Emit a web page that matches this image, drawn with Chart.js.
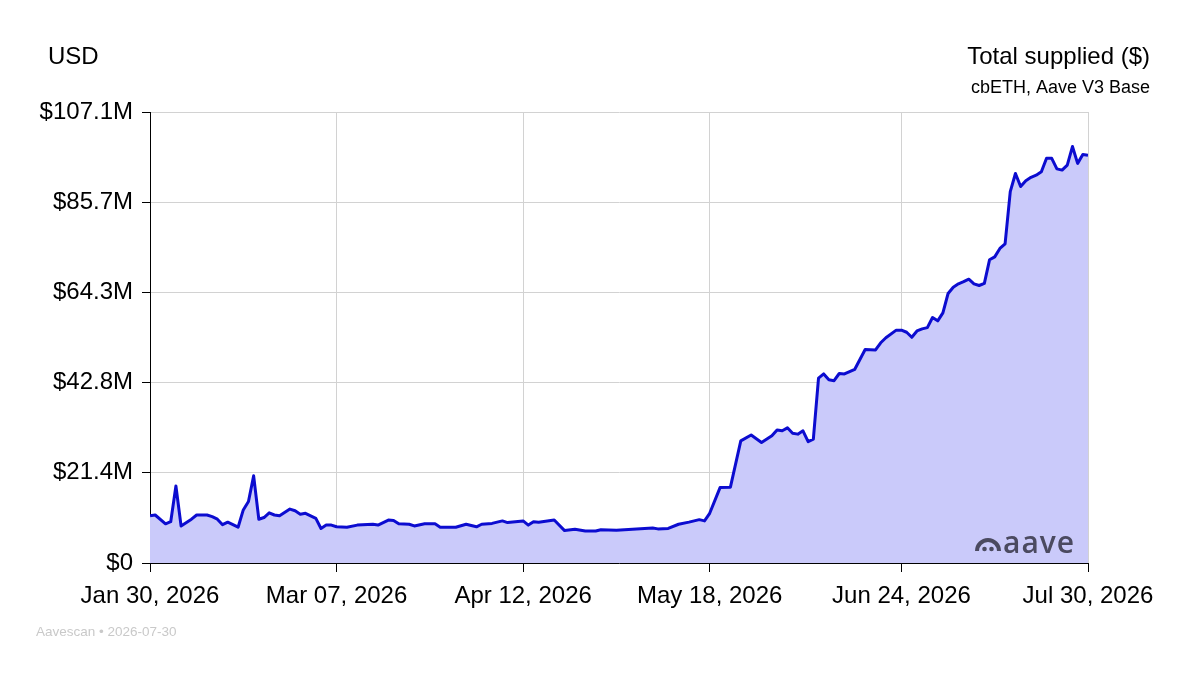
<!DOCTYPE html>
<html>
<head>
<meta charset="utf-8">
<title>Total supplied - cbETH, Aave V3 Base</title>
<script src="https://cdn.jsdelivr.net/npm/chart.js@4.4.1/dist/chart.umd.min.js"></script>
<style>
  html, body { margin: 0; padding: 0; background: #fff; }
  #wrap { width: 1200px; height: 675px; }
</style>
</head>
<body>
<div id="wrap"><canvas id="supplyChart" width="1200" height="675"></canvas></div>
<script>
// Days since Jan 30, 2026 (points where the line turns)
const days = [
  0, 1, 3, 4, 5, 6, 8, 9, 11, 12, 13, 14, 15, 17, 18, 19, 20, 21, 22, 23,
  24, 25, 27, 28, 29, 30, 32, 33, 34, 35, 36, 38, 40, 43, 44, 46, 47, 48, 50, 51,
  53, 55, 56, 59, 61, 63, 64, 66, 68, 69, 72, 73, 74, 75, 78, 80, 82, 84, 86, 87,
  90, 97, 98, 100, 102, 104, 106, 107, 108, 110, 112, 114, 116, 118, 120, 121, 122, 123, 124, 125,
  126, 127, 128, 129, 130, 131, 132, 133, 134, 136, 138, 140, 141, 142, 144, 145, 146, 147, 148, 149,
  150, 151, 152, 153, 154, 155, 156, 157, 158, 159, 160, 161, 162, 163, 164, 165, 166, 167, 168, 169,
  170, 171, 172, 173, 174, 175, 176, 177, 178, 179, 180, 181
];

// Total supplied, millions of USD
const supplied = [
  11.2, 11.4, 9.3, 9.8, 18.3, 8.8, 10.4, 11.4, 11.4, 11.0, 10.4, 9.1, 9.7, 8.5, 12.6, 14.6, 20.7, 10.4, 10.8, 11.9,
  11.4, 11.2, 12.8, 12.4, 11.6, 11.8, 10.6, 8.2, 9.0, 9.0, 8.6, 8.5, 9.0, 9.2, 9.0, 10.2, 10.1, 9.3, 9.2, 8.8,
  9.3, 9.3, 8.5, 8.5, 9.2, 8.6, 9.2, 9.4, 10.0, 9.6, 10.0, 9.0, 9.8, 9.7, 10.2, 7.7, 8.0, 7.6, 7.6, 7.9,
  7.8, 8.3, 8.1, 8.2, 9.2, 9.7, 10.3, 10.0, 11.8, 17.9, 18.0, 29.0, 30.4, 28.6, 30.2, 31.6, 31.4, 32.1, 30.8, 30.6,
  31.4, 28.8, 29.4, 43.9, 44.9, 43.5, 43.3, 45.0, 44.9, 46.0, 50.7, 50.6, 52.3, 53.5, 55.3, 55.3, 54.8, 53.6, 55.1, 55.6,
  55.9, 58.3, 57.5, 59.4, 64.0, 65.5, 66.3, 66.8, 67.4, 66.3, 65.9, 66.4, 72.0, 72.7, 74.7, 75.8, 88.2, 92.5, 89.4, 90.8,
  91.6, 92.1, 92.9, 96.1, 96.1, 93.6, 93.3, 94.5, 98.9, 94.9, 97.0, 96.8
];

const tickDays = [0, 36, 72, 108, 145, 181];
const tickLabels = ['Jan 30, 2026', 'Mar 07, 2026', 'Apr 12, 2026', 'May 18, 2026', 'Jun 24, 2026', 'Jul 30, 2026'];

const yTicks = [0, 21.42, 42.84, 64.26, 85.68, 107.1];
const yTickLabels = ['$0', '$21.4M', '$42.8M', '$64.3M', '$85.7M', '$107.1M'];

const FONT = '"Liberation Sans", Arial, Helvetica, sans-serif';

// Header, footer and watermark
const decorations = {
  id: 'decorations',
  afterDraw(chart) {
    const ctx = chart.ctx;
    const area = chart.chartArea;
    ctx.save();
    ctx.fillStyle = '#000';
    ctx.textBaseline = 'middle';

    ctx.font = '24px ' + FONT;
    ctx.textAlign = 'left';
    ctx.fillText('USD', 48, 57);

    ctx.textAlign = 'right';
    ctx.fillText('Total supplied ($)', 1150, 57);
    ctx.font = '18px ' + FONT;
    ctx.fillText('cbETH, Aave V3 Base', 1150, 88);

    ctx.textAlign = 'left';
    ctx.fillStyle = '#c9c9c9';
    ctx.font = '13.5px ' + FONT;
    ctx.fillText('Aavescan \u2022 2026-07-30', 36, 632);

    // aave logo
    const logoColor = '#4b4a60';
    const lx = area.right - 100;
    const ly = area.bottom - 12;
    ctx.strokeStyle = logoColor;
    ctx.fillStyle = logoColor;
    ctx.lineWidth = 4;
    ctx.beginPath();
    ctx.arc(lx, ly, 11, Math.PI, 0);
    ctx.stroke();
    ctx.beginPath();
    ctx.arc(lx - 3.5, ly - 2, 2.3, 0, Math.PI * 2);
    ctx.arc(lx + 3.5, ly - 2, 2.3, 0, Math.PI * 2);
    ctx.fill();
    ctx.font = '600 30px "Open Sans", sans-serif';
    ctx.letterSpacing = '1px';
    ctx.textBaseline = 'alphabetic';
    ctx.fillText('aave', lx + 15, ly + 2);
    ctx.restore();
  }
};

const ctx = document.getElementById('supplyChart').getContext('2d');

const supplyChart = new Chart(ctx, {
  type: 'line',
  data: {
    datasets: [{
      label: 'Total supplied ($)',
      data: days.map((d, i) => ({ x: d, y: supplied[i] })),
      borderColor: 'rgb(12, 12, 208)',
      backgroundColor: 'rgb(202, 202, 250)',
      borderWidth: 3,
      fill: 'origin',
      tension: 0,
      pointRadius: 0,
      borderJoinStyle: 'round'
    }]
  },
  options: {
    responsive: false,
    animation: false,
    devicePixelRatio: 1,
    layout: {
      padding: { left: 0, right: 112, top: 112, bottom: 50 }
    },
    plugins: {
      legend: { display: false },
      tooltip: { enabled: false }
    },
    scales: {
      x: {
        type: 'linear',
        min: 0,
        max: 181,
        afterBuildTicks: scale => { scale.ticks = tickDays.map(v => ({ value: v })); },
        afterFit: scale => { scale.height = 62; },
        ticks: {
          autoSkip: false,
          maxRotation: 0,
          color: '#000',
          padding: 10,
          font: { family: FONT, size: 24 },
          callback: value => tickLabels[tickDays.indexOf(value)]
        },
        grid: { color: '#d2d2d2', tickColor: '#000', tickLength: 9 },
        border: { color: '#000', width: 1 }
      },
      y: {
        min: 0,
        max: 107.1,
        afterBuildTicks: scale => { scale.ticks = yTicks.map(v => ({ value: v })); },
        afterFit: scale => { scale.width = 150; },
        ticks: {
          color: '#000',
          padding: 9,
          font: { family: FONT, size: 24 },
          callback: value => yTickLabels[yTicks.indexOf(value)]
        },
        grid: { color: '#d2d2d2', tickColor: '#000', tickLength: 8 },
        border: { color: '#000', width: 1 }
      }
    }
  },
  plugins: [decorations]
});
</script>
</body>
</html>
